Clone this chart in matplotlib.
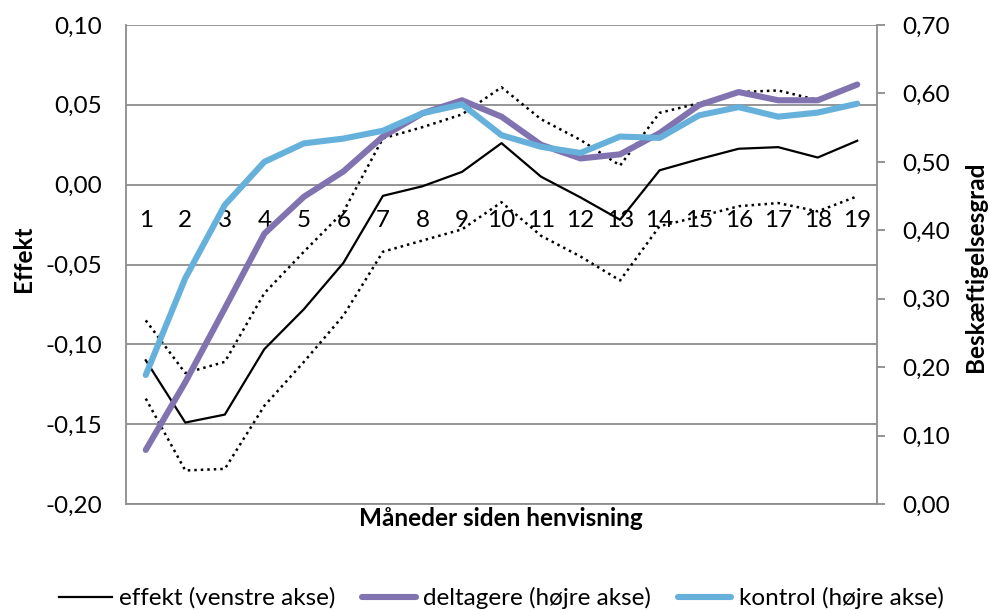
import matplotlib
matplotlib.use("Agg")
import matplotlib.pyplot as plt
from matplotlib.lines import Line2D

plt.rcParams['font.family'] = ['Lato', 'DejaVu Sans']

months = list(range(1, 20))
month_labels = [str(m) for m in months]

effekt = [-0.110, -0.149, -0.144, -0.103, -0.078, -0.049, -0.007, -0.001, 0.008, 0.026,
          0.005, -0.008, -0.022, 0.009, 0.016, 0.0225, 0.0235, 0.017, 0.0275]
effekt_upper = [-0.085, -0.118, -0.111, -0.068, -0.042, -0.017, 0.029, 0.036, 0.044, 0.061,
                0.041, 0.028, 0.012, 0.045, 0.051, 0.058, 0.059, 0.053, 0.062]
effekt_lower = [-0.134, -0.179, -0.178, -0.1385, -0.111, -0.082, -0.042, -0.035, -0.028, -0.011,
                -0.032, -0.045, -0.060, -0.026, -0.020, -0.0135, -0.0115, -0.0167, -0.0073]
deltagere = [0.079, 0.178, 0.286, 0.395, 0.449, 0.486, 0.537, 0.571, 0.590, 0.566,
             0.525, 0.505, 0.511, 0.542, 0.583, 0.602, 0.590, 0.590, 0.613]
kontrol = [0.1885, 0.330, 0.437, 0.500, 0.527, 0.534, 0.5455, 0.571, 0.584, 0.539,
           0.522, 0.513, 0.537, 0.535, 0.568, 0.580, 0.566, 0.572, 0.585]

left_ticks = [-0.20, -0.15, -0.10, -0.05, 0.00, 0.05, 0.10]
left_labels = ['-0,20', '-0,15', '-0,10', '-0,05', '0,00', '0,05', '0,10']
right_ticks = [0.0, 0.1, 0.2, 0.3, 0.4, 0.5, 0.6, 0.7]
right_labels = ['0,00', '0,10', '0,20', '0,30', '0,40', '0,50', '0,60', '0,70']

legend_labels = ['effekt (venstre akse)', 'deltagere (højre akse)', 'kontrol (højre akse)']

c_purple = '#8073B0'
c_blue = '#66B1DB'
c_grid = '#8C8C8C'
fs = 17.5

fig = plt.figure(figsize=(9.9, 6.1), dpi=100)
ax = fig.add_axes([126 / 990, 1 - 504 / 610, 751 / 990, 479 / 610])
ax.spines['bottom'].set_position(('data', 0))
ax.spines['bottom'].set_visible(False)
ax.spines['top'].set_visible(False)
ax.spines['right'].set_visible(False)
ax.spines['left'].set_color(c_grid)
ax.spines['left'].set_linewidth(1.3)

ax.set_xlim(0.5, 19.5)
ax.set_ylim(-0.20, 0.10)

ax.set_yticks(left_ticks)
ax.set_yticklabels(left_labels, fontsize=fs)
ax.tick_params(axis='y', length=0, pad=17)
ax.yaxis.grid(True, color=c_grid, linewidth=1.3)
ax.set_axisbelow(True)

ax.set_xticks(months)
ax.set_xticklabels(month_labels, fontsize=fs)
ax.tick_params(axis='x', length=0, pad=18)

ax.plot(months, effekt_upper, color='black', linestyle=(0, (1, 1.6)), linewidth=1.8)
ax.plot(months, effekt_lower, color='black', linestyle=(0, (1, 1.6)), linewidth=1.8)
ax.plot(months, effekt, color='black', linewidth=1.6)

ax2 = ax.twinx()
ax2.set_ylim(0.0, 0.70)
ax2.set_yticks(right_ticks)
ax2.set_yticklabels(right_labels, fontsize=fs)
ax2.tick_params(axis='y', length=6, width=1.3, color=c_grid, pad=12)
ax2.spines['top'].set_visible(False)
ax2.spines['left'].set_visible(False)
ax2.spines['right'].set_color(c_grid)
ax2.spines['right'].set_linewidth(1.3)
ax2.spines['bottom'].set_color(c_grid)
ax2.spines['bottom'].set_linewidth(1.3)

ax2.plot(months, deltagere, color=c_purple, linewidth=4.4, solid_capstyle='round')
ax2.plot(months, kontrol, color=c_blue, linewidth=4.4, solid_capstyle='round')

ax.set_ylabel('Effekt', fontsize=fs, fontweight='bold', va='center', ha='center')
ax.yaxis.set_label_coords(-0.136, 0.511)
ax2.set_ylabel('Beskæftigelsesgrad', fontsize=fs, fontweight='bold', rotation=90,
               va='center', ha='center')
ax2.yaxis.set_label_coords(1.1305, 0.495)

fig.text(501 / 990, 1 - 519 / 610, 'Måneder siden henvisning', fontsize=fs,
         fontweight='bold', ha='center', va='center')

handles = [Line2D([], [], color='black', linewidth=1.6),
           Line2D([], [], color=c_purple, linewidth=4.4, solid_capstyle='round'),
           Line2D([], [], color=c_blue, linewidth=4.4, solid_capstyle='round')]
fig.legend(handles, legend_labels, loc='center', bbox_to_anchor=(501 / 990, 1 - 598 / 610),
           ncol=3, frameon=False, fontsize=fs, handlelength=2.2, handletextpad=0.3,
           columnspacing=1.1, borderaxespad=0, borderpad=0)

fig.savefig('out.png', dpi=100)
